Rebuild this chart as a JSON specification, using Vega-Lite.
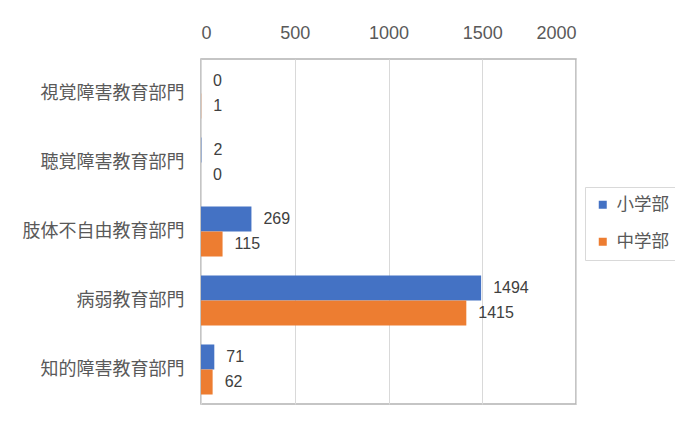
{
  "$schema": "https://vega.github.io/schema/vega-lite/v6.json",
  "autosize": {"type": "none"},
  "width": 375,
  "height": 345,
  "padding": {"left": 201, "top": 59, "right": 99, "bottom": 17},
  "background": "white",
  "data": {
    "values": [
      {"cat": "視覚障害教育部門", "series": "小学部", "value": 0},
      {"cat": "視覚障害教育部門", "series": "中学部", "value": 1},
      {"cat": "聴覚障害教育部門", "series": "小学部", "value": 2},
      {"cat": "聴覚障害教育部門", "series": "中学部", "value": 0},
      {"cat": "肢体不自由教育部門", "series": "小学部", "value": 269},
      {"cat": "肢体不自由教育部門", "series": "中学部", "value": 115},
      {"cat": "病弱教育部門", "series": "小学部", "value": 1494},
      {"cat": "病弱教育部門", "series": "中学部", "value": 1415},
      {"cat": "知的障害教育部門", "series": "小学部", "value": 71},
      {"cat": "知的障害教育部門", "series": "中学部", "value": 62}
    ]
  },
  "encoding": {
    "y": {
      "field": "cat",
      "type": "nominal",
      "sort": ["視覚障害教育部門", "聴覚障害教育部門", "肢体不自由教育部門", "病弱教育部門", "知的障害教育部門"],
      "scale": {"paddingInner": 0.275, "paddingOuter": 0.1375},
      "axis": {
        "title": null,
        "domain": false,
        "ticks": false,
        "labelPadding": 17,
        "labelFont": "Noto Sans CJK JP",
        "labelFontSize": 18,
        "labelColor": "#595959"
      }
    },
    "yOffset": {
      "field": "series",
      "type": "nominal",
      "sort": ["小学部", "中学部"]
    },
    "x": {
      "field": "value",
      "type": "quantitative",
      "scale": {"domain": [0, 2000], "nice": false},
      "axis": {
        "orient": "top",
        "title": null,
        "values": [0, 500, 1000, 1500, 2000],
        "format": "d",
        "domain": false,
        "ticks": false,
        "labelPadding": 17,
        "labelFont": "Liberation Sans",
        "labelFontSize": 18,
        "labelColor": "#595959",
        "gridColor": "#d9d9d9",
        "gridWidth": 1
      }
    }
  },
  "layer": [
    {
      "mark": {"type": "bar", "cornerRadius": 0},
      "encoding": {
        "color": {
          "field": "series",
          "type": "nominal",
          "sort": ["小学部", "中学部"],
          "scale": {"domain": ["小学部", "中学部"], "range": ["#4472C4", "#ED7D31"]},
          "legend": {
            "title": null,
            "orient": "none",
            "legendX": 384,
            "legendY": 128,
            "symbolType": "square",
            "symbolSize": 64,
            "symbolStrokeWidth": 0,
            "labelFont": "Noto Sans CJK JP",
            "labelFontSize": 17.5,
            "labelColor": "#595959",
            "labelOffset": 5,
            "rowPadding": 18,
            "padding": 9,
            "strokeColor": "#d9d9d9",
            "fillColor": "white"
          }
        }
      }
    },
    {
      "mark": {
        "type": "text",
        "align": "left",
        "baseline": "middle",
        "dx": 12,
        "font": "Liberation Sans",
        "fontSize": 16,
        "color": "#404040"
      },
      "encoding": {
        "text": {"field": "value", "type": "quantitative"}
      }
    }
  ],
  "config": {
    "view": {"stroke": "#b3b3b3", "strokeWidth": 1.5}
  }
}
